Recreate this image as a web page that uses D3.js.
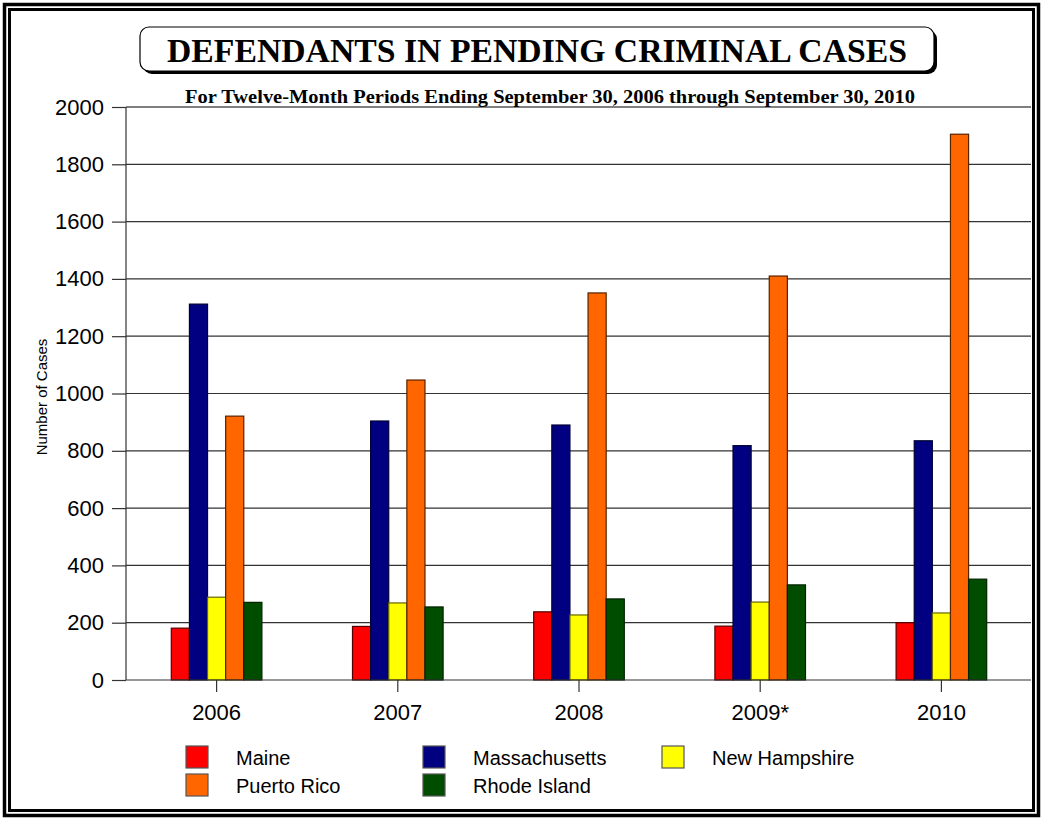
<!DOCTYPE html>
<html><head><meta charset="utf-8">
<script src="https://cdn.jsdelivr.net/npm/d3@7"></script>
<style>body{margin:0;background:#fff}svg{display:block}</style>
</head><body>
<svg id="c" width="1042" height="819"></svg>
<script>
const years = ["2006","2007","2008","2009*","2010"];
const seriesNames = ["Maine","Massachusetts","New Hampshire","Puerto Rico","Rhode Island"];
const maine = [181, 187, 238, 188, 200];
const massachusetts = [1312, 904, 890, 818, 835];
const newHampshire = [289, 269, 227, 272, 234];
const puertoRico = [921, 1047, 1351, 1410, 1905];
const rhodeIsland = [271, 255, 283, 332, 352];
const yTicks = [0,200,400,600,800,1000,1200,1400,1600,1800,2000];
const colors = ["#ff0000","#000080","#ffff00","#ff6600","#004d00"];
const strokes = ["#550000","#000033","#666600","#552200","#002200"];
const values = [maine, massachusetts, newHampshire, puertoRico, rhodeIsland];

(function(){
const svg = d3.select("#c");
const sans = "Liberation Sans, Arial, sans-serif";
// borders
svg.append("rect").attr("x",4.5).attr("y",4.5).attr("width",1034).attr("height",811)
  .attr("fill","none").attr("stroke","#000").attr("stroke-width",3.5);
svg.append("rect").attr("x",9.5).attr("y",9.5).attr("width",1024).attr("height",801)
  .attr("fill","none").attr("stroke","#000").attr("stroke-width",3);

// title box
svg.append("rect").attr("x",143).attr("y",30).attr("width",794).attr("height",44).attr("rx",9)
  .attr("fill","#000");
svg.append("rect").attr("x",140).attr("y",27).attr("width",794).attr("height",44).attr("rx",9)
  .attr("fill","#fff").attr("stroke","#000").attr("stroke-width",1.2);
svg.append("text").attr("x",537).attr("y",62).attr("text-anchor","middle")
  .attr("font-family","Liberation Serif, serif").attr("font-weight","bold").attr("font-size",34)
  .attr("textLength",740).attr("lengthAdjust","spacingAndGlyphs")
  .text("DEFENDANTS IN PENDING CRIMINAL CASES");
svg.append("text").attr("x",550).attr("y",103).attr("text-anchor","middle")
  .attr("font-family","Liberation Serif, serif").attr("font-weight","bold").attr("font-size",18)
  .attr("textLength",730).attr("lengthAdjust","spacingAndGlyphs")
  .text("For Twelve-Month Periods Ending September 30, 2006 through September 30, 2010");

const pL = 126, pR = 1031, pT = 107, pB = 680;
const x0 = d3.scaleBand().domain(years).range([pL, pR+1]);
const x1 = d3.scaleBand().domain(seriesNames).range([0, x0.bandwidth()]).paddingInner(0).paddingOuter(2.5);
const y = d3.scaleLinear().domain([0,2000]).range([pB, pT]);

// gridlines
svg.append("g").selectAll("line").data(yTicks.filter(d=>d>0)).join("line")
  .attr("x1",pL).attr("x2",pR).attr("y1",d=>y(d)).attr("y2",d=>y(d))
  .attr("stroke",(d)=>d===2000?"#000":"#333").attr("stroke-width",1.2);

// y axis
const yAxis = d3.axisLeft(y).tickValues(yTicks).tickSize(14).tickPadding(8).tickFormat(d3.format("d"));
const gy = svg.append("g").attr("transform",`translate(${pL},0)`).call(yAxis);
gy.select(".domain").remove();
gy.selectAll(".tick line").attr("stroke","#333").attr("stroke-width",1.2);
gy.selectAll("text").attr("font-family",sans).attr("font-size",22).attr("fill","#000");
svg.append("line").attr("x1",pL).attr("x2",pL).attr("y1",pT).attr("y2",pB).attr("stroke","#333").attr("stroke-width",1.2);

// bars
const groups = svg.append("g").selectAll("g").data(years).join("g")
  .attr("transform",d=>`translate(${x0(d)},0)`);
groups.selectAll("rect").data((d,i)=>seriesNames.map((s,j)=>({s,j,v:values[j][i]}))).join("rect")
  .attr("x",d=>x1(d.s)).attr("width",x1.bandwidth())
  .attr("y",d=>y(d.v)).attr("height",d=>pB-y(d.v))
  .attr("fill",d=>colors[d.j]).attr("stroke",d=>strokes[d.j]).attr("stroke-width",1.2);

// x axis
const xAxis = d3.axisBottom(x0).tickSize(12).tickPadding(12);
const gx = svg.append("g").attr("transform",`translate(0,${pB})`).call(xAxis);
gx.select(".domain").attr("d",`M${pL},0H${pR}`).attr("stroke","#333").attr("stroke-width",1.2);
gx.selectAll(".tick line").attr("stroke","#333").attr("stroke-width",1.2);
gx.selectAll("text").attr("font-family",sans).attr("font-size",22).attr("fill","#000");

// y label
svg.append("text").attr("transform","translate(47,397) rotate(-90)").attr("text-anchor","middle")
  .attr("font-family",sans).attr("font-size",15).text("Number of Cases");

// legend
const legPos = [[186,746],[423,746],[662,746],[186,774],[423,774]];
const order = [0,1,2,3,4];
const leg = svg.append("g").selectAll("g").data(order).join("g")
  .attr("transform",(d,i)=>`translate(${legPos[i][0]},${legPos[i][1]})`);
leg.append("rect").attr("width",22).attr("height",22).attr("fill",d=>colors[d]).attr("stroke","#555").attr("stroke-width",1.2);
leg.append("text").attr("x",50).attr("y",19).attr("font-family",sans)
  .attr("font-size",20).text(d=>seriesNames[d]);
})();
</script>
</body></html>
